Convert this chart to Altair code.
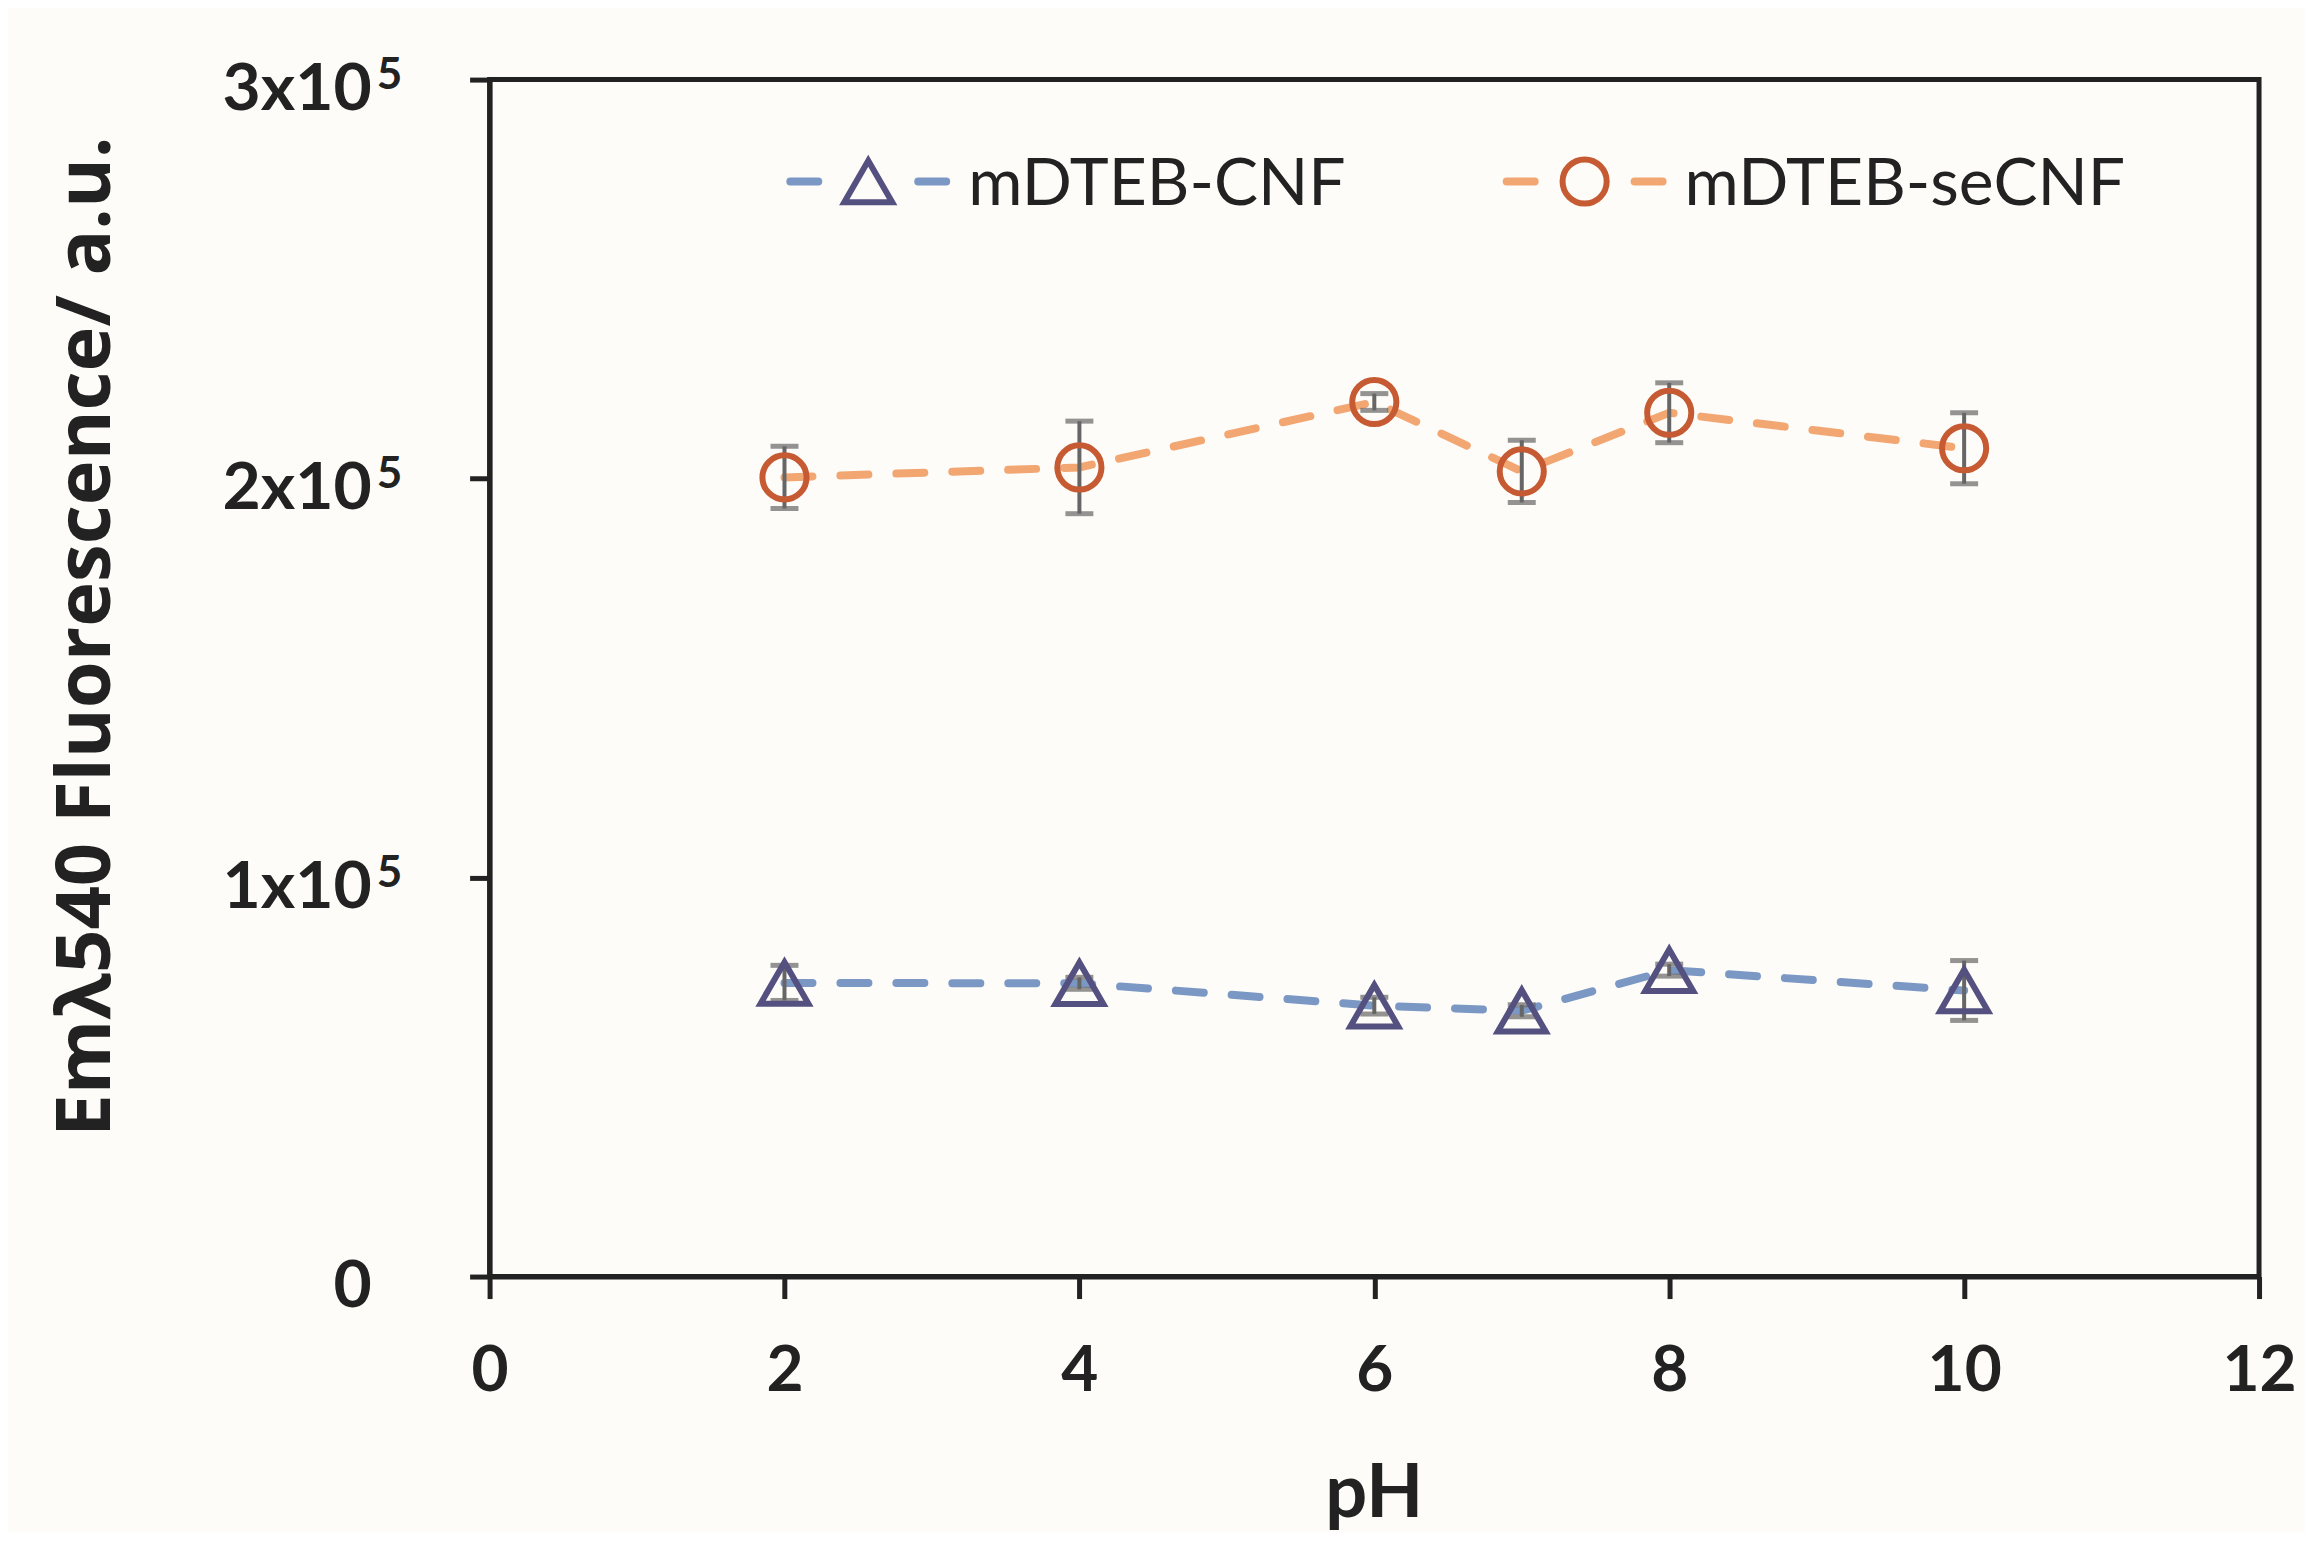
import altair as alt
import pandas as pd

# ---- data ----
ph = [2, 4, 6, 7, 8, 10]
series_names = ["mDTEB-CNF", "mDTEB-seCNF"]
cnf_values = [73600, 73500, 67900, 66600, 76800, 71700]
cnf_errors = [4400, 1500, 2100, 1500, 1500, 7500]
secnf_values = [200300, 202800, 219200, 201800, 216500, 207600]
secnf_errors = [7800, 11600, 2100, 7800, 7500, 8900]

xtick_values = [0, 2, 4, 6, 8, 10, 12]
ytick_values = [0, 100000, 200000, 300000]
ytick_main = ["0", "1x10", "2x10", "3x10"]
ytick_sup = ["", "5", "5", "5"]

line_colors = ["#7B98C4", "#F2A672"]
marker_colors = ["#54507F", "#C65B33"]
marker_shapes = ["triangle-up", "circle"]
marker_sizes = [2300, 1950]

rows = []
for name, vals, errs in [(series_names[0], cnf_values, cnf_errors),
                         (series_names[1], secnf_values, secnf_errors)]:
    for p, v, e in zip(ph, vals, errs):
        rows.append({"series": name, "pH": p, "value": v, "err": e})
df = pd.DataFrame(rows)

W, H = 1771, 1198
FONT = "Lato"

xscale = alt.Scale(domain=[0, 12], nice=False)
yscale = alt.Scale(domain=[0, 300000], nice=False)

xaxis = alt.Axis(values=xtick_values, grid=False, tickSize=22, tickWidth=5,
                 domainWidth=5, domainColor="#222222", tickColor="#222222",
                 labelFont=FONT, labelFontWeight="bold", labelFontSize=64,
                 labelColor="#222222", labelPadding=41, labelFlush=False,
                 title="pH", titleFont=FONT, titleFontWeight="bold", titleFontSize=74,
                 titleColor="#222222", titleX=885, titleY=240, titleAlign="center",
                 titleBaseline="alphabetic")
yaxis = alt.Axis(values=ytick_values, grid=False, tickSize=20, tickWidth=5,
                 domainWidth=5, domainColor="#222222", tickColor="#222222",
                 labels=False,
                 title="Em\u03bb540 Fluorescence/ a.u.", titleFont="Open Sans",
                 titleFontWeight="bold", titleFontSize=76, titleColor="#222222",
                 titleX=-403, titleY=557, titleAngle=-90, titleAlign="center",
                 titleBaseline="middle")

color_scale = alt.Scale(domain=series_names, range=line_colors)
stroke_scale = alt.Scale(domain=series_names, range=marker_colors)
shape_scale = alt.Scale(domain=series_names, range=marker_shapes)
size_scale = alt.Scale(domain=series_names, range=marker_sizes)

base = alt.Chart(df).encode(
    x=alt.X("pH:Q", scale=xscale, axis=xaxis),
)

lines = base.mark_line(strokeWidth=8, strokeDash=[28, 28], strokeCap="round").encode(
    y=alt.Y("value:Q", scale=yscale, axis=yaxis),
    color=alt.Color("series:N", scale=color_scale, legend=None),
)

err_rules = base.mark_rule(color="#666666", strokeWidth=4).transform_calculate(
    lo="datum.value - datum.err", hi="datum.value + datum.err"
).encode(y="lo:Q", y2="hi:Q")

caps_hi = base.mark_tick(color="#666666", orient="horizontal", size=28, thickness=5).transform_calculate(
    hi="datum.value + datum.err").encode(y="hi:Q")
caps_lo = base.mark_tick(color="#666666", orient="horizontal", size=28, thickness=5).transform_calculate(
    lo="datum.value - datum.err").encode(y="lo:Q")

points = base.mark_point(filled=False, strokeWidth=6, opacity=1).encode(
    y="value:Q",
    stroke=alt.Stroke("series:N", scale=stroke_scale, legend=None),
    shape=alt.Shape("series:N", scale=shape_scale, legend=None),
    size=alt.Size("series:N", scale=size_scale, legend=None),
)

# custom y tick labels with superscript exponent
ylab_df = pd.DataFrame({"v": ytick_values, "main": ytick_main, "sup": ytick_sup})
ylab_main = alt.Chart(ylab_df).mark_text(
    align="right", baseline="alphabetic", font=FONT, fontWeight="bold",
    fontSize=66, color="#222222", dy=30
).encode(x=alt.value(-118), y=alt.Y("v:Q", scale=yscale), text="main:N")
ylab_sup = alt.Chart(ylab_df).mark_text(
    align="left", baseline="alphabetic", font=FONT, fontWeight="bold",
    fontSize=44, color="#222222", dy=9
).encode(x=alt.value(-113), y=alt.Y("v:Q", scale=yscale), text="sup:N")

# legend drawn inside the plot
legend_layers = []
for i, name in enumerate(series_names):
    cx = 379 + 717 * i
    cy = 102
    ldf = pd.DataFrame({"series": [name]})
    for a, b in [(-78, -50), (50, 78)]:
        legend_layers.append(
            alt.Chart(ldf).mark_rule(color=line_colors[i], strokeWidth=8, strokeCap="round").encode(
                x=alt.value(cx + a), x2=alt.value(cx + b), y=alt.value(cy)))
    legend_layers.append(
        alt.Chart(ldf).mark_point(filled=False, size=marker_sizes[i], strokeWidth=6, opacity=1,
                                  shape=marker_shapes[i], color=marker_colors[i]).encode(
            x=alt.value(cx), y=alt.value(cy)))
    legend_layers.append(
        alt.Chart(ldf).mark_text(align="left", baseline="middle", font=FONT, fontSize=66,
                                 color="#222222", dy=4).encode(
            x=alt.value(cx + 100), y=alt.value(cy), text="series:N"))

chart = alt.layer(
    lines, err_rules, caps_hi, caps_lo, points, ylab_main, ylab_sup, *legend_layers
).properties(
    width=W, height=H,
    autosize=alt.AutoSizeParams(type="none"),
    padding={"left": 482, "top": 71, "right": 46, "bottom": 255},
    background="#FDFCF8",
).configure_view(
    stroke="#222222", strokeWidth=5
)

chart.save("out.html", embed_options={"renderer": "svg", "actions": False})
